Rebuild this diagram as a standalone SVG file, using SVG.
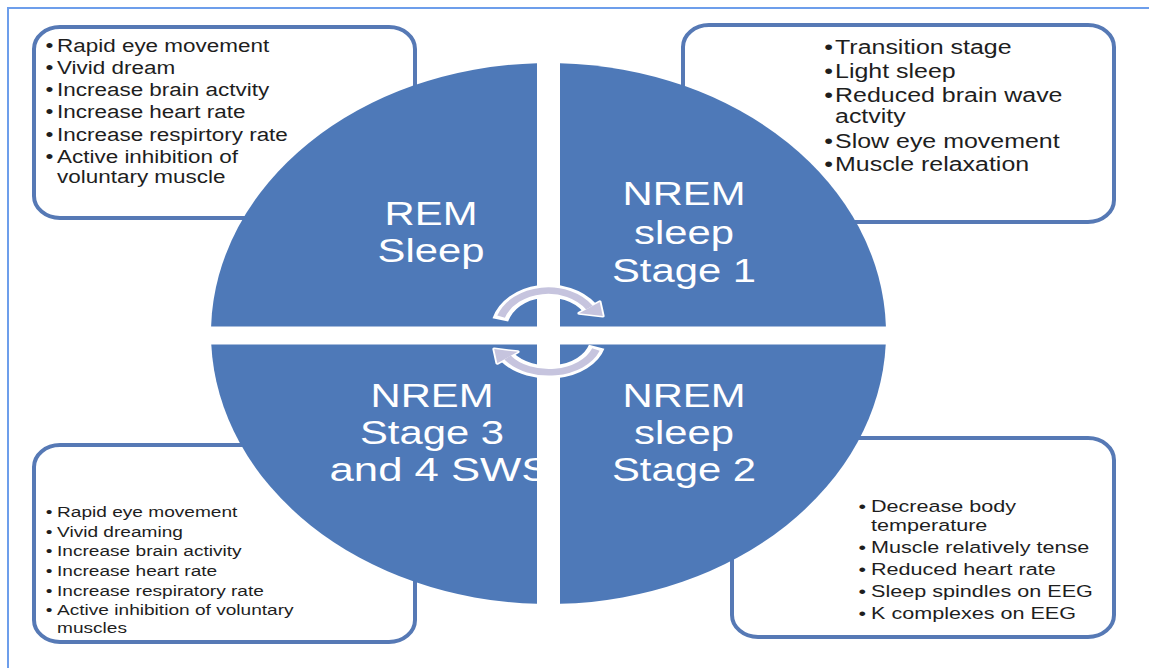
<svg xmlns="http://www.w3.org/2000/svg" width="1149" height="668" viewBox="0 0 1149 668">
  <style>
    .frame { stroke: #6d9eeb; stroke-width: 2; fill: none; }
    .box { fill: #ffffff; stroke: #5679b5; stroke-width: 4; }
    .quad { fill: #4e79b8; }
    .note { font-family: "Liberation Sans", Arial, sans-serif; fill: #1e1e1e; }
    .title { font-family: "Liberation Sans", Arial, sans-serif; fill: #ffffff; font-size: 33.5px; text-anchor: middle; }
    .dot { text-anchor: middle; }
    .ring-edge { fill: none; stroke: #ffffff; stroke-width: 13; }
    .ring-core { fill: none; stroke: #c6c4de; stroke-width: 6.5; }
    .head { fill: #c6c4de; stroke: #ffffff; stroke-width: 3; stroke-linejoin: round; }
    .head-fill { fill: #c6c4de; }
  </style>
  <defs>
    <clipPath id="clip-bl">
      <rect x="0" y="344.5" width="537" height="323.5"/>
    </clipPath>
  </defs>

  <rect width="1149" height="668" fill="#ffffff"/>
  <!-- page frame: top and left rules -->
  <path class="frame" d="M8,668 V8 H1149"/>

  <!-- detail boxes -->
  <g id="box-rem">
    <rect class="box" x="34" y="27" width="381" height="191" rx="26" ry="22"/>
    <g class="note" font-size="18" transform="translate(57,0) scale(1.248,1)">
      <text class="dot" x="-6" y="52">•</text><text x="0" y="52">Rapid eye movement</text>
      <text class="dot" x="-6" y="74">•</text><text x="0" y="74">Vivid dream</text>
      <text class="dot" x="-6" y="96">•</text><text x="0" y="96">Increase brain actvity</text>
      <text class="dot" x="-6" y="118">•</text><text x="0" y="118">Increase heart rate</text>
      <text class="dot" x="-6" y="141">•</text><text x="0" y="141">Increase respirtory rate</text>
      <text class="dot" x="-6" y="163">•</text><text x="0" y="163">Active inhibition of</text>
      <text x="0" y="183">voluntary muscle</text>
    </g>
  </g>

  <g id="box-stage1">
    <rect class="box" x="683" y="25" width="431" height="197" rx="26" ry="22"/>
    <g class="note" font-size="20" transform="translate(835,0) scale(1.248,1)">
      <text class="dot" x="-5.2" y="54">•</text><text x="0" y="54">Transition stage</text>
      <text class="dot" x="-5.2" y="78">•</text><text x="0" y="78">Light sleep</text>
      <text class="dot" x="-5.2" y="102">•</text><text x="0" y="102">Reduced brain wave</text>
      <text x="0" y="123">actvity</text>
      <text class="dot" x="-5.2" y="148">•</text><text x="0" y="148">Slow eye movement</text>
      <text class="dot" x="-5.2" y="171">•</text><text x="0" y="171">Muscle relaxation</text>
    </g>
  </g>

  <g id="box-stage34">
    <rect class="box" x="34" y="445" width="381" height="197" rx="26" ry="22"/>
    <g class="note" font-size="15.3" transform="translate(57,0) scale(1.248,1)">
      <text class="dot" x="-6.4" y="517">•</text><text x="0" y="517">Rapid eye movement</text>
      <text class="dot" x="-6.4" y="537">•</text><text x="0" y="537">Vivid dreaming</text>
      <text class="dot" x="-6.4" y="556">•</text><text x="0" y="556">Increase brain activity</text>
      <text class="dot" x="-6.4" y="576">•</text><text x="0" y="576">Increase heart rate</text>
      <text class="dot" x="-6.4" y="596">•</text><text x="0" y="596">Increase respiratory rate</text>
      <text class="dot" x="-6.4" y="615">•</text><text x="0" y="615">Active inhibition of voluntary</text>
      <text x="0" y="633">muscles</text>
    </g>
  </g>

  <g id="box-stage2">
    <rect class="box" x="732" y="438" width="382" height="199" rx="26" ry="22"/>
    <g class="note" font-size="17.3" transform="translate(871,0) scale(1.248,1)">
      <text class="dot" x="-7" y="512">•</text><text x="0" y="512">Decrease body</text>
      <text x="0" y="531">temperature</text>
      <text class="dot" x="-7" y="553">•</text><text x="0" y="553">Muscle relatively tense</text>
      <text class="dot" x="-7" y="575">•</text><text x="0" y="575">Reduced heart rate</text>
      <text class="dot" x="-7" y="597">•</text><text x="0" y="597">Sleep spindles on EEG</text>
      <text class="dot" x="-7" y="619">•</text><text x="0" y="619">K complexes on EEG</text>
    </g>
  </g>

  <!-- four quarters of the sleep cycle -->
  <g id="quad-rem">
    <path class="quad" d="M537,326.5 L211.11,326.5 A337.5,270.5 0 0 1 537,63.16 Z"/>
    <g class="title" transform="translate(431,0) scale(1.248,1)">
      <text x="0" y="225">REM</text>
      <text x="0" y="262">Sleep</text>
    </g>
  </g>

  <g id="quad-stage1">
    <path class="quad" d="M560,326.5 L560,63.16 A337.5,270.5 0 0 1 885.89,326.5 Z"/>
    <g class="title" transform="translate(684,0) scale(1.248,1)">
      <text x="0" y="205">NREM</text>
      <text x="0" y="244">sleep</text>
      <text x="0" y="282">Stage 1</text>
    </g>
  </g>

  <g id="quad-stage2">
    <path class="quad" d="M560,344.5 L885.72,344.5 A337.5,270.5 0 0 1 560,603.84 Z"/>
    <g class="title" transform="translate(684,0) scale(1.248,1)">
      <text x="0" y="407">NREM</text>
      <text x="0" y="444">sleep</text>
      <text x="0" y="481">Stage 2</text>
    </g>
  </g>

  <g id="quad-stage34">
    <path class="quad" d="M537,344.5 L537,603.84 A337.5,270.5 0 0 1 211.28,344.5 Z"/>
    <g clip-path="url(#clip-bl)">
      <g class="title" transform="translate(432,0) scale(1.248,1)">
        <text x="0" y="407">NREM</text>
        <text x="0" y="444">Stage 3</text>
        <text x="6.4" y="481" textLength="177" lengthAdjust="spacingAndGlyphs">and 4 SWS</text>
      </g>
    </g>
  </g>

  <!-- cycle arrows in the centre -->
  <g id="connectors">
    <g id="arrow-top" transform="translate(548.5,330) scale(1.248,1)">
      <path class="ring-edge" d="M-38.6,-10.1 A40,39 0 0 1 32.8,-22.4"/>
      <polygon class="head" points="41,-28.1 43.5,-14 24.6,-16.7"/>
      <path class="ring-core" d="M-38,-13.3 A40,39 0 0 1 32.8,-22.4"/>
      <polygon class="head-fill" points="41,-28.1 43.5,-14 24.6,-16.7"/>
    </g>
    <g id="arrow-bottom" transform="translate(548.5,338) scale(1.248,1)">
      <path class="ring-edge" d="M38.6,8.8 A40,34 0 0 1 -32.8,19.5"/>
      <polygon class="head" points="-41,25.2 -43.5,11.1 -24.6,13.8"/>
      <path class="ring-core" d="M38,11.6 A40,34 0 0 1 -32.8,19.5"/>
      <polygon class="head-fill" points="-41,25.2 -43.5,11.1 -24.6,13.8"/>
    </g>
  </g>
</svg>
